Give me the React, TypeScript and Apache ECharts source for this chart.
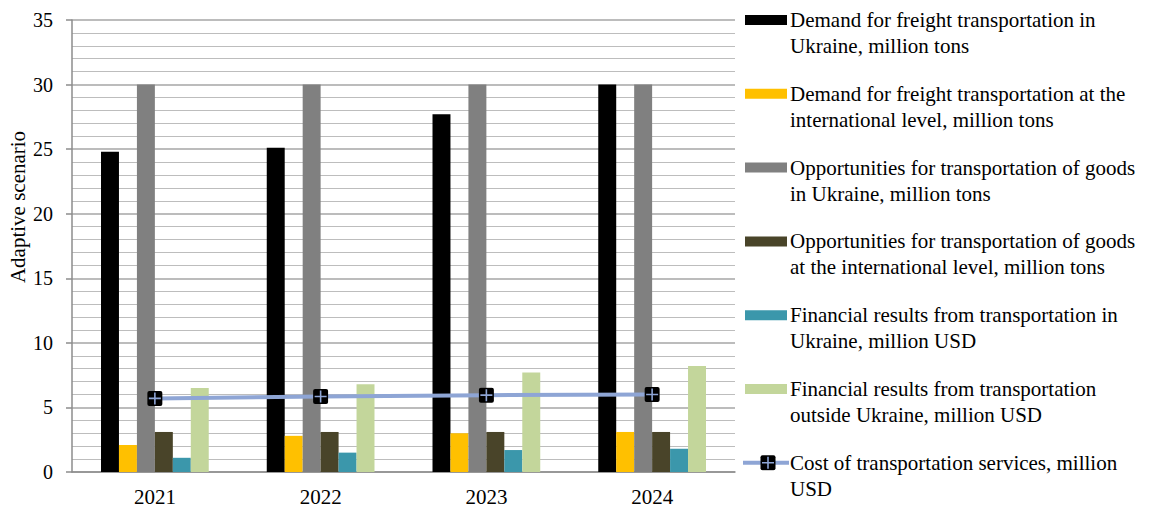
import React, { useEffect, useRef } from "react";
import * as echarts from "echarts";

const categories = ["2021", "2022", "2023", "2024"];
const seriesNames = [
  "Demand for freight transportation in Ukraine, million tons",
  "Demand for freight transportation at the international level, million tons",
  "Opportunities for transportation of goods in Ukraine, million tons",
  "Opportunities for transportation of goods at the international level, million tons",
  "Financial results from transportation in Ukraine, million USD",
  "Financial results from transportation outside Ukraine, million USD",
  "Cost of transportation services, million USD",
];
const legendLines = [
  ["Demand for freight transportation in", "Ukraine, million tons"],
  ["Demand for freight transportation at the", "international level, million tons"],
  ["Opportunities for transportation of goods", "in Ukraine, million tons"],
  ["Opportunities for transportation of goods", "at the international level, million tons"],
  ["Financial results from transportation in", "Ukraine, million USD"],
  ["Financial results from transportation", "outside Ukraine, million USD"],
  ["Cost of transportation services, million", "USD"],
];
const demandUkraine = [24.8, 25.1, 27.7, 30.0];
const demandIntl = [2.1, 2.8, 3.0, 3.1];
const oppUkraine = [30, 30, 30, 30];
const oppIntl = [3.1, 3.1, 3.1, 3.1];
const finUkraine = [1.1, 1.5, 1.7, 1.8];
const finOutside = [6.5, 6.8, 7.7, 8.2];
const costServices = [5.7, 5.85, 5.95, 6.0];
const yTicks = [0, 5, 10, 15, 20, 25, 30, 35];

const barColors = ["#000000", "#FFC000", "#808080", "#494429", "#3B97AB", "#C3D69B"];
const lineColor = "#8EA5D5";
const FONT = "Liberation Serif, serif";

const markerSvg =
  "data:image/svg+xml;charset=utf-8," +
  encodeURIComponent(
    '<svg xmlns="http://www.w3.org/2000/svg" width="16" height="16" viewBox="0 0 16 16">' +
      '<rect x="0.5" y="0.5" width="15" height="15" rx="2" fill="#000"/>' +
      '<line x1="8" y1="2" x2="8" y2="14" stroke="#8EA5D5" stroke-width="1.6"/>' +
      '<line x1="2" y1="8" x2="14" y2="8" stroke="#8EA5D5" stroke-width="1.6"/>' +
      "</svg>"
  );

export default function App() {
  const ref = useRef<HTMLDivElement>(null);
  useEffect(() => {
    if (!ref.current) return;
    const chart = echarts.init(ref.current, null, { renderer: "svg" });
    const barData = [demandUkraine, demandIntl, oppUkraine, oppIntl, finUkraine, finOutside];

    const legendGraphics: any[] = [];
    const legendTop = 20;
    const legendStep = 73.8;
    legendLines.forEach((lines, i) => {
      const cy = legendTop + i * legendStep;
      if (i < 6) {
        legendGraphics.push({
          type: "rect",
          shape: { x: 745, y: cy - 5, width: 42, height: 10 },
          style: { fill: barColors[i] },
        });
      } else {
        legendGraphics.push({
          type: "line",
          shape: { x1: 743, y1: cy, x2: 789, y2: cy },
          style: { stroke: lineColor, lineWidth: 4 },
        });
        legendGraphics.push({
          type: "image",
          style: { image: markerSvg, x: 760, y: cy - 8, width: 16, height: 16 },
        });
      }
      lines.forEach((t, j) => {
        legendGraphics.push({
          type: "text",
          x: 790,
          y: cy + j * 26,
          style: {
            text: t,
            fontFamily: FONT,
            fontSize: 21,
            fill: "#000",
            verticalAlign: "middle",
            align: "left",
          },
        });
      });
    });

    const option: any = {
      animation: false,
      textStyle: { fontFamily: FONT },
      grid: { left: 72, right: 424, top: 20, bottom: 36 },
      xAxis: {
        type: "category",
        data: categories,
        axisLine: { lineStyle: { color: "#8C8C8C", width: 1.5 } },
        axisTick: { show: false },
        axisLabel: { fontFamily: FONT, fontSize: 21, color: "#000", margin: 14 },
      },
      yAxis: {
        type: "value",
        min: 0,
        max: 35,
        interval: 5,
        axisLine: { show: true, lineStyle: { color: "#8C8C8C", width: 1.5 } },
        axisTick: { show: true, length: 6, lineStyle: { color: "#8C8C8C", width: 1.5 } },
        axisLabel: {
          fontFamily: FONT,
          fontSize: 20,
          color: "#000",
          margin: 19,
          formatter: (v: number) => (yTicks.includes(v) ? String(v) : ""),
        },
        splitLine: { show: true, lineStyle: { color: "#A6A6A6", width: 1.5 } },
        minorTick: { show: false, splitNumber: 5 },
        minorSplitLine: { show: true, lineStyle: { color: "#BDBDBD", width: 1.2 } },
      },
      series: [
        ...barData.map((d, i) => ({
          name: seriesNames[i],
          type: "bar",
          data: d,
          barGap: "0%",
          barCategoryGap: "35%",
          itemStyle: { color: barColors[i] },
          z: 2,
        })),
        {
          name: seriesNames[6],
          type: "line",
          data: costServices,
          symbol: "image://" + markerSvg,
          symbolSize: 16,
          lineStyle: { color: lineColor, width: 4 },
          itemStyle: { color: lineColor },
          z: 5,
        },
      ],
      graphic: [
        {
          type: "text",
          x: 18,
          y: 207,
          rotation: Math.PI / 2,
          style: {
            text: "Adaptive scenario",
            fontFamily: FONT,
            fontSize: 21,
            fill: "#000",
            align: "center",
            verticalAlign: "middle",
          },
        },
        ...legendGraphics,
      ],
    };
    chart.setOption(option);
    return () => chart.dispose();
  }, []);
  return <div ref={ref} style={{ width: 1159, height: 508, position: "absolute", left: 0, top: 0 }} />;
}
